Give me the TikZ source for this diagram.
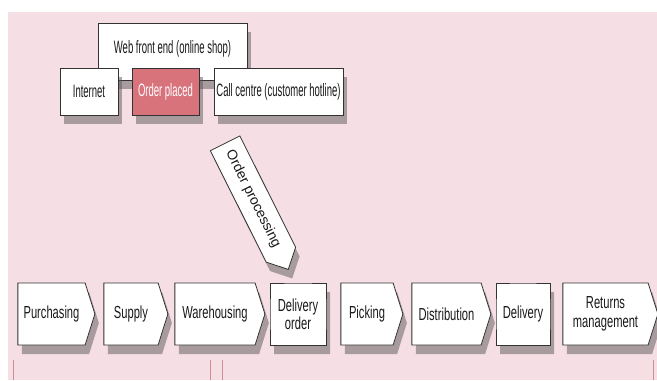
\documentclass[tikz,border=0pt]{standalone}
\usepackage{fontspec}
\setmainfont{Liberation Sans}
\newfontfamily\topfont{Liberation Sans}[FakeStretch=0.53]
\newfontfamily\chainfont{Liberation Sans}[FakeStretch=0.64]
\usetikzlibrary{shapes.symbols,shadows}

\definecolor{bgpink}{RGB}{246,223,228}
\definecolor{placedred}{RGB}{216,115,123}
\definecolor{rulepink}{RGB}{205,140,150}

\tikzset{
  box/.style={draw=black!80, fill=white, line width=0.8bp, inner sep=2bp, text=black!90,
    drop shadow={fill=black!65, opacity=0.5, shadow xshift=4bp, shadow yshift=-9bp}},
  topbox/.style={box, font=\topfont\fontsize{18}{19}\selectfont},
  stagebox/.style={box, font=\chainfont\fontsize{17.5}{18.5}\selectfont,
    signal, signal pointer angle=145, minimum height=62bp, align=center}
}

\begin{document}
\begin{tikzpicture}[x=1bp,y=-1bp]
  \useasboundingbox (0,0) rectangle (657,380);
  \fill[bgpink] (8,12) rectangle (657,380);

  % channels
  \node[topbox, minimum width=149bp, minimum height=57bp, text depth=9bp] (web) at (172.5,51.5) {Web front end (online shop)};
  \node[topbox, minimum width=58bp, minimum height=47bp] (net) at (89,91.5) {Internet};
  \node[topbox, fill=placedred, text=white, minimum width=67bp, minimum height=47bp] (placed) at (165.5,91.5) {Order placed};
  \node[topbox, minimum width=129bp, minimum height=47bp] (call) at (278.5,91.5) {Call centre (customer hotline)};

  \node[box, signal, signal to=east, signal pointer angle=90, rotate=-63.4,
    minimum width=141bp, minimum height=33bp, font=\fontsize{14}{15}\selectfont] (proc) at (253,199) {Order processing};

  % process chain
  \foreach \n/\d/\x/\w/\t in {pur/east/51.5/77/Purchasing, sup/east/131/64/Supply,
      ware/east/215/90/Warehousing, dord/nowhere/298/56/{Delivery\\order},
      pick/east/367/62/Picking, dist/east/446.5/79/Distribution,
      deli/nowhere/523/54/Delivery, ret/east/605.5/95/{Returns\\management}}
  {
    \node[stagebox, signal to=\d, minimum width=\w bp] (\n) at (\x,314) {\t};
  }

  \foreach \x in {13,210,222,653}
    \draw[rulepink, line width=0.7bp] (\x,360) -- (\x,380);
\end{tikzpicture}
\end{document}
